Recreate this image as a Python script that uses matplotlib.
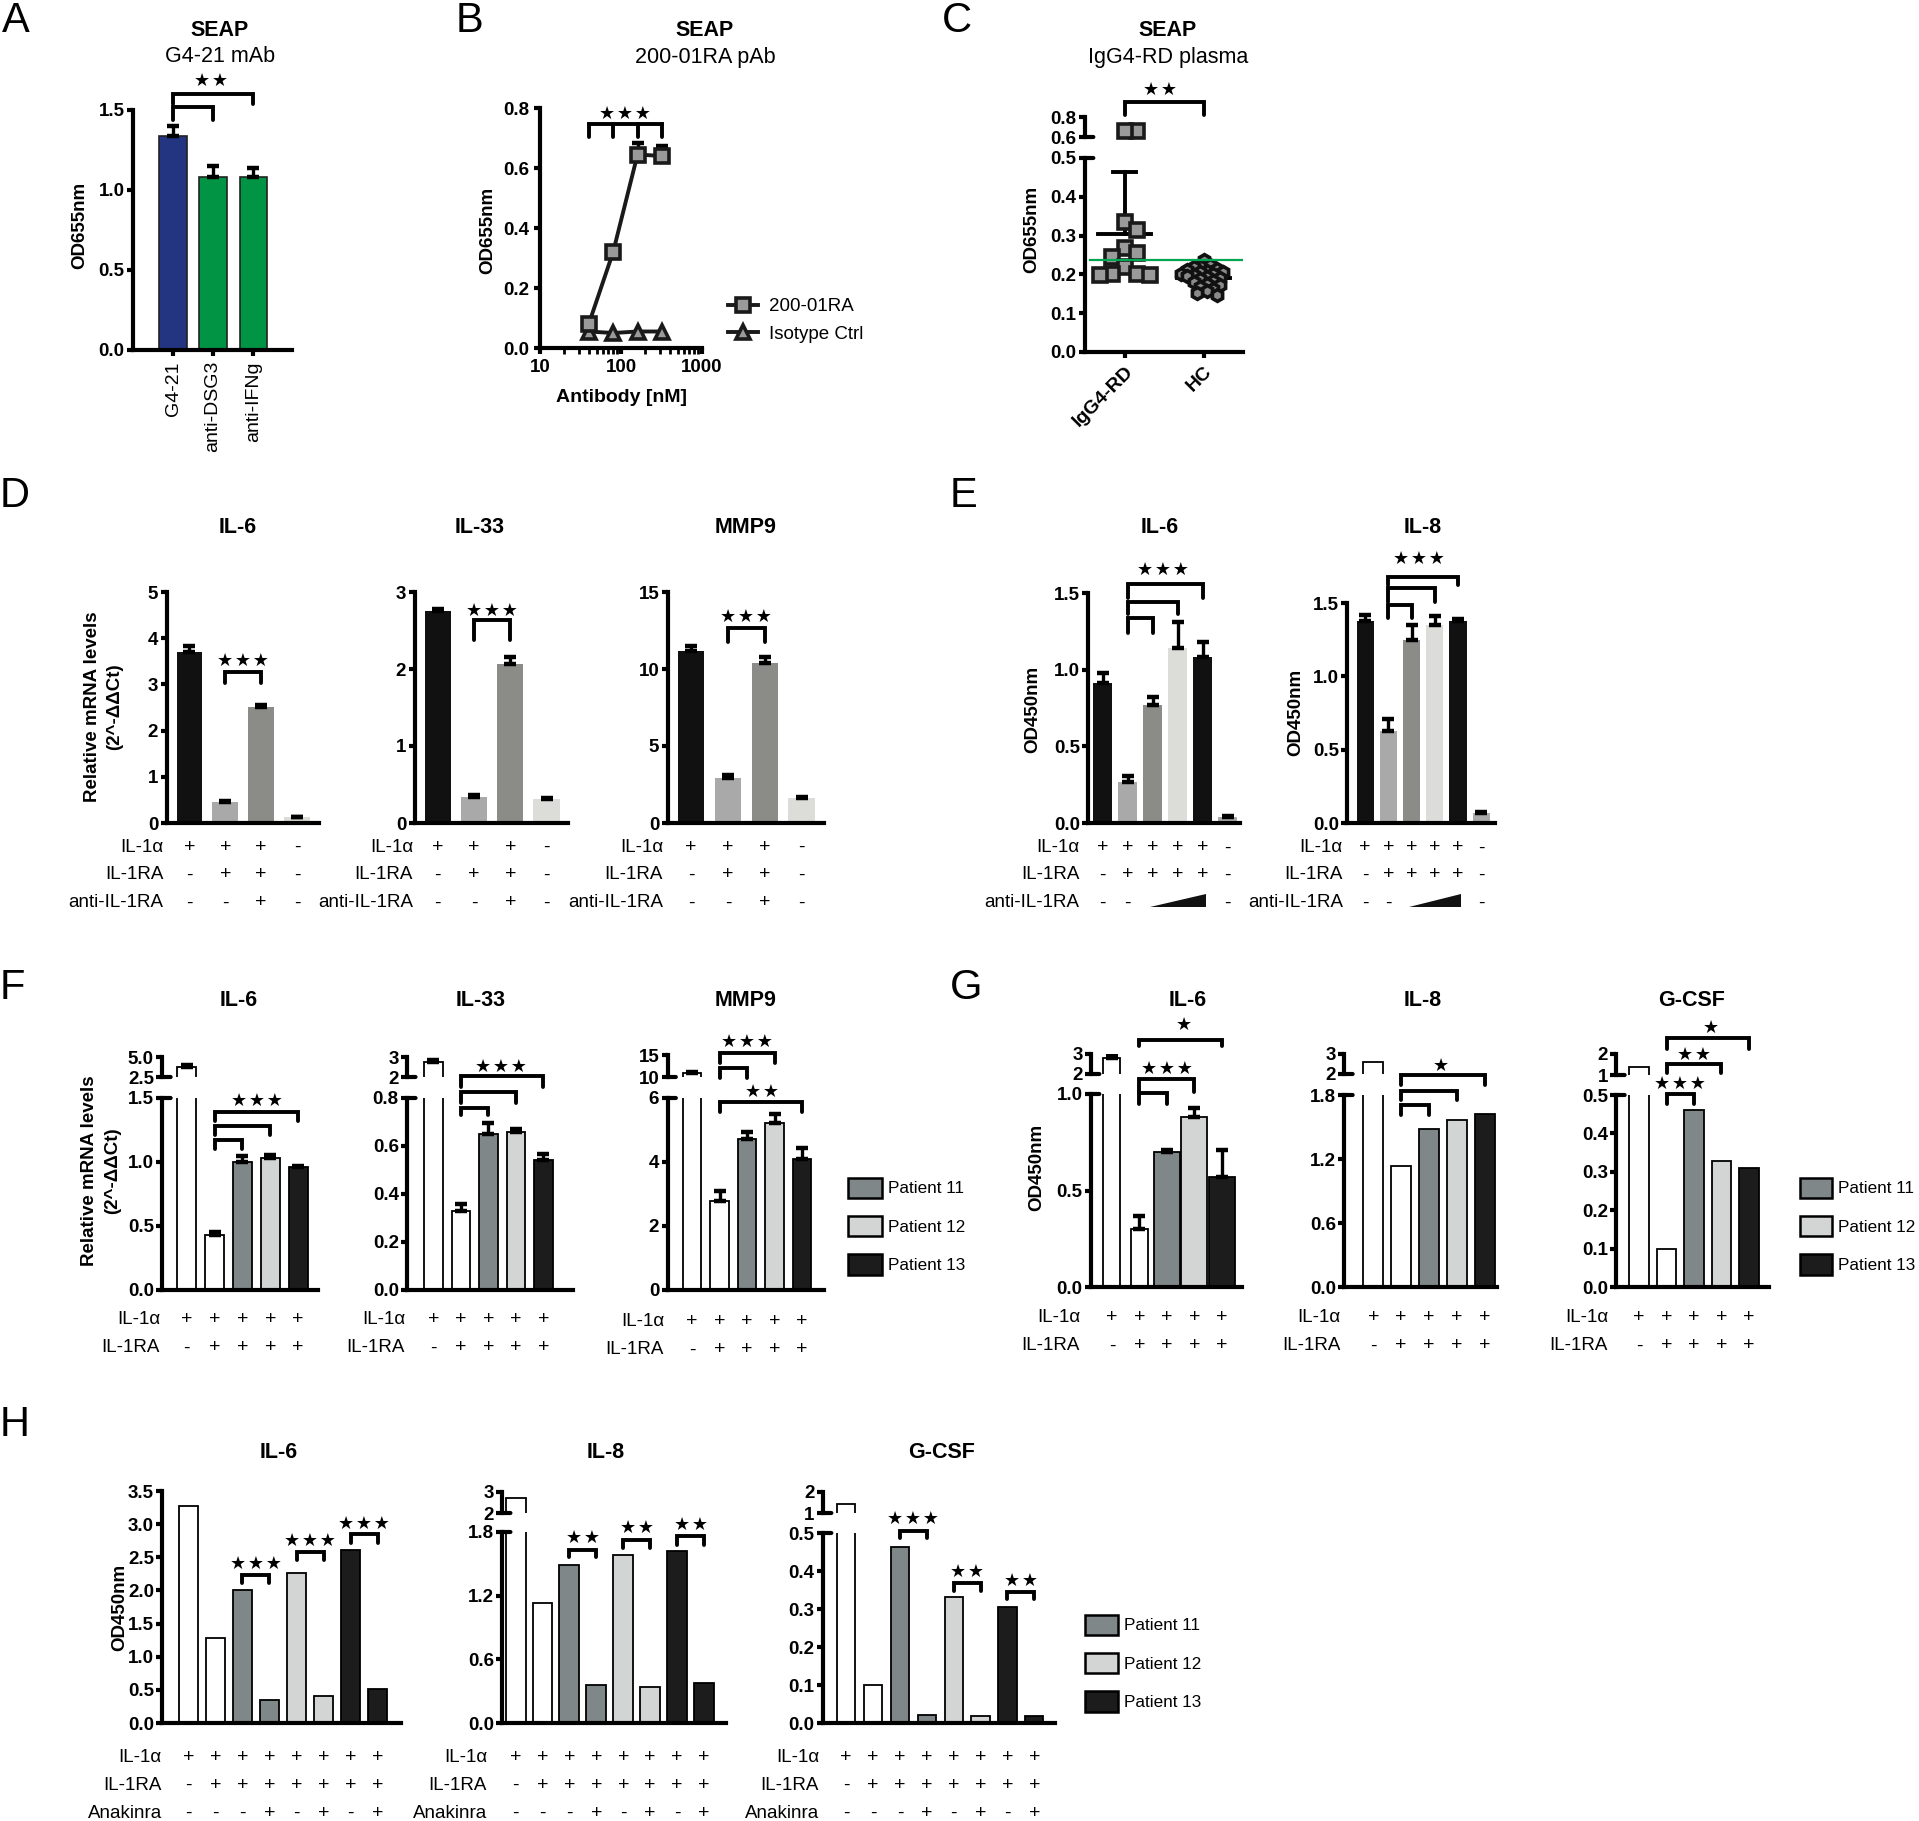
import numpy as np
import matplotlib.pyplot as plt
from matplotlib import transforms
from matplotlib.patches import Patch, Polygon
from matplotlib.lines import Line2D

W, H = 1919, 1821

plt.rcParams['font.family'] = ['Liberation Sans', 'DejaVu Sans']
plt.rcParams['axes.linewidth'] = 3.0
plt.rcParams['xtick.major.width'] = 3.0
plt.rcParams['ytick.major.width'] = 3.0
plt.rcParams['xtick.major.size'] = 4.5
plt.rcParams['ytick.major.size'] = 4.5

# ---------------- data ----------------
# A
a_labels = ["G4-21", "anti-DSG3", "anti-IFNg"]
a_vals = [1.34, 1.08, 1.08]
a_err = [0.06, 0.07, 0.06]
a_colors = ["#233580", "#009444", "#009444"]
a_yticks = ["0.0", "0.5", "1.0", "1.5"]

# B
b_series = ["200-01RA", "Isotype Ctrl"]
b_conc = [40, 80, 160, 320]
b_ra = [0.08, 0.32, 0.645, 0.64]
b_ra_err = [0, 0, 0.04, 0.035]
b_iso = [0.055, 0.05, 0.055, 0.055]
b_xticks = [10, 100, 1000]
b_yticks = ["0.0", "0.2", "0.4", "0.6", "0.8"]

# C
c_groups = ["IgG4-RD", "HC"]
c_igg4 = [0.66, 0.66, 0.335, 0.315, 0.268, 0.255, 0.245, 0.22, 0.2, 0.2, 0.198, 0.198]
c_hc = [0.237, 0.225, 0.222, 0.218, 0.215, 0.212, 0.21, 0.207, 0.205, 0.202, 0.2, 0.198,
        0.195, 0.193, 0.19, 0.187, 0.183, 0.18, 0.176, 0.172, 0.168, 0.163, 0.158, 0.152, 0.147]
c_mean = [0.304, 0.19]
c_sd = [0.16, 0.02]
c_cutoff = 0.238
c_lower_ticks = ["0.0", "0.1", "0.2", "0.3", "0.4", "0.5"]
c_upper_ticks = ["0.6", "0.8"]

# D
d_genes = ["IL-6", "IL-33", "MMP9"]
d_vals = [[3.7, 0.45, 2.52, 0.12], [2.75, 0.34, 2.07, 0.31], [11.2, 2.9, 10.4, 1.6]]
d_err = [[0.14, 0.02, 0.04, 0.02], [0.03, 0.02, 0.09, 0.02], [0.3, 0.2, 0.35, 0.1]]
d_yticks = [["0", "1", "2", "3", "4", "5"], ["0", "1", "2", "3"], ["0", "5", "10", "15"]]
d_rows = ["IL-1α", "IL-1RA", "anti-IL-1RA"]
d_signs = [["+", "+", "+", "-"], ["-", "+", "+", "-"], ["-", "-", "+", "-"]]
d_colors = ["#111111", "#a9a9a9", "#8b8c88", "#dcdcd8"]

# E
e_genes = ["IL-6", "IL-8"]
e_vals = [[0.91, 0.27, 0.77, 1.14, 1.08, 0.037], [1.38, 0.63, 1.25, 1.35, 1.38, 0.07]]
e_err = [[0.07, 0.035, 0.05, 0.17, 0.1, 0.006], [0.04, 0.08, 0.1, 0.06, 0.01, 0.006]]
e_yticks = ["0.0", "0.5", "1.0", "1.5"]
e_rows = ["IL-1α", "IL-1RA", "anti-IL-1RA"]
e_signs = [["+", "+", "+", "+", "+", "-"], ["-", "+", "+", "+", "+", "-"], ["-", "-", "", "", "", "-"]]
e_colors = ["#111111", "#a9a9a9", "#8b8c88", "#dcdcd8", "#111111", "#a9a9a9"]

# patients (F, G, H)
patients = ["Patient 11", "Patient 12", "Patient 13"]
p_colors = ["#7f8789", "#d3d4d4", "#1c1c1c"]

# F
f_genes = ["IL-6", "IL-33", "MMP9"]
f_vals = [[3.7, 0.43, 1.0, 1.03, 0.96], [2.77, 0.33, 0.65, 0.66, 0.54], [10.84, 2.79, 4.72, 5.21, 4.08]]
f_err = [[0.25, 0.02, 0.05, 0.025, 0.01], [0.07, 0.027, 0.047, 0.012, 0.025], [0.35, 0.3, 0.22, 0.29, 0.35]]
f_lower = [["0.0", "0.5", "1.0", "1.5"], ["0.0", "0.2", "0.4", "0.6", "0.8"], ["0", "2", "4", "6"]]
f_upper = [["2.5", "5.0"], ["2", "3"], ["10", "15"]]
fg_rows = ["IL-1α", "IL-1RA"]
fg_signs = [["+", "+", "+", "+", "+"], ["-", "+", "+", "+", "+"]]

# G
g_genes = ["IL-6", "IL-8", "G-CSF"]
g_vals = [[2.78, 0.30, 0.70, 0.88, 0.57], [2.62, 1.13, 1.48, 1.57, 1.62], [1.37, 0.10, 0.46, 0.328, 0.309]]
g_err = [[0.12, 0.07, 0.01, 0.05, 0.14], None, None]
g_lower = [["0.0", "0.5", "1.0"], ["0.0", "0.6", "1.2", "1.8"], ["0.0", "0.1", "0.2", "0.3", "0.4", "0.5"]]
g_upper = [["2", "3"], ["2", "3"], ["1", "2"]]

# H
h_genes = ["IL-6", "IL-8", "G-CSF"]
h_vals = [[3.27, 1.28, 2.0, 0.34, 2.26, 0.41, 2.61, 0.51],
          [2.7, 1.13, 1.49, 0.36, 1.58, 0.34, 1.62, 0.38],
          [1.43, 0.10, 0.464, 0.021, 0.331, 0.018, 0.304, 0.018]]
h_lower = [["0.0", "0.5", "1.0", "1.5", "2.0", "2.5", "3.0", "3.5"], ["0.0", "0.6", "1.2", "1.8"],
           ["0.0", "0.1", "0.2", "0.3", "0.4", "0.5"]]
h_upper = [None, ["2", "3"], ["1", "2"]]
h_rows = ["IL-1α", "IL-1RA", "Anakinra"]
h_signs = [["+"] * 8, ["-"] + ["+"] * 7, ["-", "-", "-", "+", "-", "+", "-", "+"]]

# ---------------- helpers ----------------
fig = plt.figure(figsize=(W / 100, H / 100), dpi=100)
TICK_FS = 13.5
ROW_FS = 13.5
STAR_FS = 13


def px_ax(x0, y0, x1, y1):
    return fig.add_axes([x0 / W, 1 - y1 / H, (x1 - x0) / W, (y1 - y0) / H])


def ftext(x, y, s, **kw):
    fig.text(x / W, 1 - y / H, s, **kw)


def setup(ax, xlim, labels, bottom=True, fs=TICK_FS):
    ticks = [float(t) for t in labels]
    ax.set_xlim(xlim)
    ax.set_ylim(ticks[0], ticks[-1])
    ax.set_yticks(ticks)
    ax.set_yticklabels(labels, fontsize=fs, fontweight='bold')
    ax.tick_params(axis='y', pad=1.5)
    ax.set_xticks([])
    ax.spines[['top', 'right']].set_visible(False)
    ax.spines['bottom'].set_visible(bottom)
    ax.patch.set_visible(False)


def break_tick(ax, y):
    ax.annotate('', xy=(0, y), xycoords=('axes fraction', 'data'), xytext=(6, 0),
                textcoords='offset points', annotation_clip=False,
                arrowprops=dict(arrowstyle='-', lw=3, shrinkA=0, shrinkB=0))


def draw_bars(ax, vals, colors, width, errs=None, edge='none', lw=1.3):
    x = np.arange(len(vals))
    ax.bar(x, vals, width=width, color=colors, edgecolor=edge, linewidth=lw, zorder=2)
    if errs is not None:
        e = np.asarray(errs, float)
        v = np.asarray(vals, float)
        m = e > 0
        ax.errorbar(x[m], v[m], yerr=[np.zeros(m.sum()), e[m]], fmt='none', ecolor='k',
                    elinewidth=2.4, capsize=4.5, capthick=3.2, zorder=3)


def bar_panel(x0, x1, ytop, ybot, xlim, labels, vals, colors, width, errs=None, edge='none',
              upper=None, upper_labels=None):
    ax = px_ax(x0, ytop, x1, ybot)
    setup(ax, xlim, labels)
    draw_bars(ax, vals, colors, width, errs, edge)
    if upper is None:
        return ax
    ua = px_ax(x0, upper[0], x1, upper[1])
    setup(ua, xlim, upper_labels, bottom=False)
    draw_bars(ua, vals, colors, width, errs, edge)
    break_tick(ua, float(upper_labels[0]))
    break_tick(ax, float(labels[-1]))
    return ax


def star_text(ax, x, y, stars):
    ax.text(x, y, '\u200a'.join(stars), ha='center', va='center', fontsize=STAR_FS,
            family='DejaVu Sans', clip_on=False)


def bracket(ax, x0, x1, ytop, yleg, stars=None, ystar=None, xstar=None):
    ax.plot([x0, x0, x1, x1], [yleg, ytop, ytop, yleg], color='k', lw=2.8, clip_on=False,
            solid_capstyle='round', solid_joinstyle='miter', zorder=5)
    if stars:
        star_text(ax, (x0 + x1) / 2 if xstar is None else xstar, ystar, stars)


def cond_rows(ax, names, signs, ys, xr, fs=ROW_FS):
    tr = transforms.blended_transform_factory(ax.transData, fig.transFigure)
    for name, row, y in zip(names, signs, ys):
        ftext(xr, y, name, ha='right', va='center', fontsize=fs)
        for k, s in enumerate(row):
            ax.text(k, 1 - y / H, s, transform=tr, ha='center', va='center', fontsize=fs + 0.5)


def patient_legend(ax, x, y, box_w, fs=12.3):
    fpx = fs * 100 / 72
    handles = [Patch(facecolor=c, edgecolor='k', linewidth=1.8) for c in p_colors]
    ax.legend(handles, patients, loc='upper left', bbox_to_anchor=(x / W, 1 - y / H),
              bbox_transform=fig.transFigure, frameon=False, fontsize=fs,
              handlelength=box_w / fpx, handleheight=25 / fpx, labelspacing=(43 - 25) / fpx,
              handletextpad=6 / fpx, borderpad=0, borderaxespad=0)


def swarm(vals, ppu_y, ppu_x, diam):
    vals = np.asarray(vals, float)
    placed = []
    offs = np.zeros(len(vals))
    for i in np.argsort(vals)[::-1]:
        y = vals[i] * ppu_y
        step = 0
        pos = None
        while pos is None:
            cands = [0.0] if step == 0 else [step * diam * 0.5, -step * diam * 0.5]
            for c in cands:
                if all(np.hypot(c - px, y - py) >= diam for px, py in placed):
                    pos = c
                    break
            step += 1
        placed.append((pos, y))
        offs[i] = pos / ppu_x
    return offs


def letter(x, y, s):
    ftext(x, y, s, ha='left', va='top', fontsize=30)


def title(x, y, s):
    ftext(x, y, s, ha='center', va='center', fontsize=15.5, fontweight='bold')


def ylab(x, y, s):
    ftext(x, y, s, rotation=90, ha='center', va='center', fontsize=13.5, fontweight='bold')


# ---------------- A ----------------
letter(2, 1, "A")
title(220, 30, "SEAP")
ftext(220, 57, "G4-21 mAb", ha='center', va='center', fontsize=15.5)
axa = px_ax(133, 110, 292, 350)
setup(axa, (-1, 2.97), a_yticks, fs=13.5)
draw_bars(axa, a_vals, a_colors, 0.68, a_err, edge='#222222', lw=1.2)
axa.set_xticks(range(len(a_labels)))
axa.set_xticklabels(a_labels, rotation=90, fontsize=14)
bracket(axa, 0, 1, 1.52, 1.44)
bracket(axa, 0, 2, 1.6, 1.54, "★★", 1.68, 0.95)
ylab(80, 225, "OD655nm")

# ---------------- B ----------------
letter(456, 1, "B")
title(705, 30, "SEAP")
ftext(705, 57, "200-01RA pAb", ha='center', va='center', fontsize=15.5)
axb = px_ax(540, 108, 702, 348)
axb.set_xscale('log')
axb.set_xlim(10, 1000)
axb.set_ylim(0, 0.8)
axb.spines[['top', 'right']].set_visible(False)
axb.set_yticks([float(t) for t in b_yticks])
axb.set_yticklabels(b_yticks, fontsize=13.5, fontweight='bold')
axb.set_xticks(b_xticks)
axb.set_xticklabels([str(t) for t in b_xticks], fontsize=13.5, fontweight='bold')
axb.tick_params(axis='x', which='minor', length=4, width=2)
mk = dict(color='#1a1a1a', lw=2.8, ms=9.5, mfc='#9a9a9a', mec='#1a1a1a', mew=2.6)
axb.plot(b_conc, b_iso, marker='^', clip_on=False, zorder=3, **mk)
axb.plot(b_conc, b_ra, marker='s', clip_on=False, zorder=4, **mk)
be = np.asarray(b_ra_err)
m = be > 0
axb.errorbar(np.asarray(b_conc)[m], np.asarray(b_ra)[m], yerr=[np.zeros(m.sum()), be[m]], fmt='none',
             ecolor='k', elinewidth=2.4, capsize=4.5, capthick=3.2, zorder=2)
axb.plot([b_conc[0], b_conc[-1]], [0.747, 0.747], color='k', lw=2.8, clip_on=False)
for c in b_conc:
    axb.plot([c, c], [0.747, 0.703], color='k', lw=2.8, solid_capstyle='round', clip_on=False)
star_text(axb, 113, 0.78, "★★★")
hb = [Line2D([], [], marker='s', **mk), Line2D([], [], marker='^', **mk)]
axb.legend(hb, b_series, loc='upper left', bbox_to_anchor=(728 / W, 1 - 298 / H),
           bbox_transform=fig.transFigure, frameon=False, fontsize=13.5, handlelength=1.6,
           handletextpad=0.6, labelspacing=0.55, borderpad=0, borderaxespad=0)
ylab(488, 230, "OD655nm")
ftext(622, 398, "Antibody [nM]", ha='center', va='center', fontsize=14, fontweight='bold')

# ---------------- C ----------------
letter(942, 1, "C")
title(1168, 30, "SEAP")
ftext(1168, 57, "IgG4-RD plasma", ha='center', va='center', fontsize=15.5)
axc = px_ax(1085, 158, 1243, 352)
setup(axc, (-0.5, 1.5), c_lower_ticks, fs=13.5)
axc.set_xticks([0, 1])
axc.set_xticklabels(c_groups, rotation=45, ha='right', rotation_mode='anchor', fontsize=14,
                    fontweight='bold')
axcu = px_ax(1085, 117, 1243, 137)
setup(axcu, (-0.5, 1.5), c_upper_ticks, bottom=False, fs=13.5)
break_tick(axc, 0.5)
break_tick(axcu, 0.6)
igg = np.asarray(c_igg4)
lo = igg[igg <= 0.5]
hi = igg[igg > 0.5]
sq = dict(marker='s', ls='none', ms=9.5, mfc='#9a9a9a', mec='#1a1a1a', mew=2.6, zorder=4)
axc.plot(swarm(lo, 388, 79, 12.5), lo, clip_on=False, **sq)
axcu.plot(swarm(hi, 100, 79, 12.5), hi, clip_on=False, **sq)
axc.plot(1 + swarm(c_hc, 388, 79, 6.5), c_hc, marker='h', ls='none', ms=8.5, mfc='#8a8a8a',
         mec='#111111', mew=2.6, zorder=4, clip_on=False)
for k in range(2):
    axc.plot([k - 0.33, k + 0.33], [c_mean[k]] * 2, color='k', lw=2.8, zorder=3)
    axc.plot([k, k], [c_mean[k], c_mean[k] + c_sd[k]], color='k', lw=2.8, zorder=3)
    axc.plot([k - 0.14, k + 0.14], [c_mean[k] + c_sd[k]] * 2, color='k', lw=2.8, zorder=3)
axc.axhline(c_cutoff, xmin=0.03, xmax=1.0, color='#00a651', lw=1.6, zorder=5)
bracket(axcu, 0, 1, 0.95, 0.82, "★★", 1.07, 0.45)
ylab(1032, 229, "OD655nm")

# ---------------- D ----------------
letter(0, 476, "D")
d_x = [(166.5, 318.6), (414.5, 568.3), (667.6, 823.8)]
d_lab = [163.6, 413, 663]
d_tt = [238, 480, 746]
d_br = [(3.27, 3.03, 3.5), (2.64, 2.38, 2.75), (12.66, 11.75, 13.4)]
for k in range(3):
    ax = bar_panel(d_x[k][0], d_x[k][1], 592, 823, (-0.64, 3.6), d_yticks[k], d_vals[k], d_colors,
                   0.72, d_err[k])
    bracket(ax, 1, 2, d_br[k][0], d_br[k][1], "★★★", d_br[k][2])
    cond_rows(ax, d_rows, d_signs, [847, 875, 903], d_lab[k])
    title(d_tt[k], 528, d_genes[k])
ylab(92, 707, "Relative mRNA levels")
ylab(115, 707, "(2^-ΔΔCt)")

# ---------------- E ----------------
letter(950, 476, "E")
e_x = [(1088.4, 1240), (1347.3, 1494.6)]
e_top = [593, 603]
e_xl = [(-0.57, 5.49), (-0.77, 5.58)]
e_lab = [1079.5, 1342.9]
e_tt = [1160, 1423]
e_br = [[(2, 1.337, 1.24), (3, 1.44, 1.36), (4, 1.56, 1.47)],
        [(2, 1.486, 1.40), (3, 1.60, 1.51), (4, 1.68, 1.62)]]
e_star = [(2.4, 1.65), (2.3, 1.8)]
e_yl = [(1032.6, 709), (1296, 712)]
for k in range(2):
    ax = bar_panel(e_x[k][0], e_x[k][1], e_top[k], 823, e_xl[k], e_yticks, e_vals[k], e_colors,
                   0.74, e_err[k])
    for j, yt, yl in e_br[k]:
        bracket(ax, 1, j, yt, yl)
    star_text(ax, e_star[k][0], e_star[k][1], "★★★")
    cond_rows(ax, e_rows, e_signs, [848, 875, 903], e_lab[k])
    tr = transforms.blended_transform_factory(ax.transData, fig.transFigure)
    ax.add_patch(Polygon([(1.9, 1 - 907 / H), (4.15, 1 - 907 / H), (4.15, 1 - 894 / H)],
                         closed=True, transform=tr, facecolor='#111111', edgecolor='none',
                         clip_on=False))
    title(e_tt[k], 528, e_genes[k])
    ylab(e_yl[k][0], e_yl[k][1], "OD450nm")

# ---------------- F ----------------
letter(0, 968, "F")
f_colors = ["white", "white"] + p_colors
f_x = [(162.3, 318.4), (407.2, 572.6), (667.5, 823.6)]
f_xl = [(-0.88, 4.73), (-0.95, 5.06), (-0.89, 4.78)]
f_up = [(1057, 1077), (1057, 1077), (1055, 1077)]
f_lab = [160, 405, 664]
f_rowy = [[1320, 1348], [1320, 1348], [1322, 1350]]
f_tt = [239, 481, 746]
for k in range(3):
    ax = bar_panel(f_x[k][0], f_x[k][1], 1098, 1290, f_xl[k], f_lower[k], f_vals[k], f_colors,
                   0.68, f_err[k], edge='k', upper=f_up[k], upper_labels=f_upper[k])
    cond_rows(ax, fg_rows, fg_signs, f_rowy[k], f_lab[k])
    title(f_tt[k], 1000, f_genes[k])
    if k == 0:
        bracket(ax, 1, 2, 1.17, 1.10)
        bracket(ax, 1, 3, 1.28, 1.21)
        bracket(ax, 1, 4, 1.39, 1.32, "★★★", 1.48, 2.52)
    elif k == 1:
        bracket(ax, 1, 2, 0.76, 0.73)
        bracket(ax, 1, 3, 0.825, 0.78)
        bracket(ax, 1, 4, 0.89, 0.845, "★★★", 0.93, 2.47)
    else:
        bracket(ax, 1, 2, 6.94, 6.63)
        bracket(ax, 1, 3, 7.4, 7.1, "★★★", 7.75, 2.0)
        bracket(ax, 1, 4, 5.87, 5.56, "★★", 6.2, 2.56)
        patient_legend(ax, 848, 1177.5, 34)
ylab(89, 1171, "Relative mRNA levels")
ylab(113, 1171, "(2^-ΔΔCt)")

# ---------------- G ----------------
letter(950, 968, "G")
g_x = [(1091, 1241.7), (1344.3, 1497), (1616.3, 1769)]
g_xl = [(-0.76, 4.72), (-1.05, 4.45), (-0.83, 4.73)]
g_lowtop = [1094, 1095, 1095]
g_up = [(1054, 1074), (1054, 1074), (1054, 1075)]
g_w = [[0.62, 0.62, 0.95, 0.95, 0.95], 0.72, 0.72]
g_lab = [1080, 1340.6, 1608]
g_tt = [1188, 1423, 1692]
for k in range(3):
    ax = bar_panel(g_x[k][0], g_x[k][1], g_lowtop[k], 1287, g_xl[k], g_lower[k], g_vals[k],
                   f_colors, g_w[k], g_err[k], edge='k', upper=g_up[k], upper_labels=g_upper[k])
    cond_rows(ax, fg_rows, fg_signs, [1317, 1346], g_lab[k])
    title(g_tt[k], 1000, g_genes[k])
    if k == 0:
        bracket(ax, 1, 2, 1.003, 0.95)
        bracket(ax, 1, 3, 1.08, 1.01, "★★★", 1.13, 2.0)
        bracket(ax, 1, 4, 1.28, 1.25, "★", 1.36, 2.6)
    elif k == 1:
        bracket(ax, 1, 2, 1.706, 1.61)
        bracket(ax, 1, 3, 1.84, 1.75)
        bracket(ax, 1, 4, 1.99, 1.89, "★", 2.07, 2.44)
    else:
        bracket(ax, 1, 2, 0.503, 0.477, "★★★", 0.53, 1.47)
        bracket(ax, 1, 3, 0.58, 0.557, "★★", 0.605, 2.0)
        bracket(ax, 1, 4, 0.648, 0.62, "★", 0.675, 2.6)
        patient_legend(ax, 1800, 1177.5, 32)
ylab(1036.5, 1167, "OD450nm")

# ---------------- H ----------------
letter(0, 1405, "H")
h_colors = ["white", "white", p_colors[0], p_colors[0], p_colors[1], p_colors[1], p_colors[2],
            p_colors[2]]
h_x = [(162.3, 401), (502.1, 725.6), (823, 1055)]
h_xl = [(-0.97, 7.87), (-0.5, 7.8), (-0.86, 7.77)]
h_lowtop = [1491, 1532, 1533]
h_up = [None, (1492, 1513), (1492, 1513)]
h_w = [0.74, 0.74, 0.68]
h_lab = [162, 487, 819]
h_tt = [279, 606, 942]
h_br = [[(2.23, 2.11, 2.4), (2.58, 2.46, 2.75), (2.85, 2.72, 3.0)],
        [(1.63, 1.56, 1.74), (1.72, 1.65, 1.84), (1.76, 1.68, 1.87)],
        [(0.505, 0.487, 0.537), (0.368, 0.347, 0.397), (0.345, 0.326, 0.374)]]
h_st = [["★★★", "★★★", "★★★"], ["★★", "★★", "★★"], ["★★★", "★★", "★★"]]
for k in range(3):
    ax = bar_panel(h_x[k][0], h_x[k][1], h_lowtop[k], 1723, h_xl[k], h_lower[k], h_vals[k],
                   h_colors, h_w[k], None, edge='k', upper=h_up[k], upper_labels=h_upper[k])
    for n, (yt, yl, ys) in enumerate(h_br[k]):
        bracket(ax, 2 + 2 * n, 3 + 2 * n, yt, yl, h_st[k][n], ys)
    cond_rows(ax, h_rows, h_signs, [1758, 1785, 1813], h_lab[k])
    title(h_tt[k], 1453, h_genes[k])
    if k == 2:
        patient_legend(ax, 1085, 1614.5, 33)
ylab(119.4, 1607, "OD450nm")

fig.savefig("out.png", dpi=100)
